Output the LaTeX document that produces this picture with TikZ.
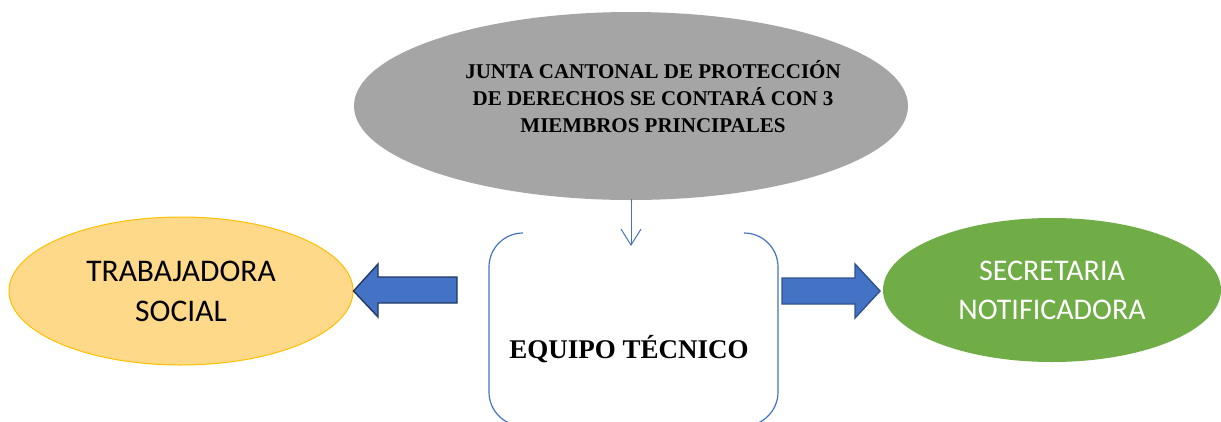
\documentclass[tikz,border=0pt]{standalone}
\usepackage{fontspec}
\setmainfont{Liberation Serif}
\newfontfamily\calibri{Carlito}
\usetikzlibrary{shapes.geometric,arrows.meta}
\definecolor{grayfill}{HTML}{A5A5A5}
\definecolor{goldfill}{HTML}{FFD98A}
\definecolor{goldline}{HTML}{FFC000}
\definecolor{greenfill}{HTML}{70AD47}
\definecolor{accblue}{HTML}{4472C4}
\definecolor{navyA}{HTML}{203864}
\definecolor{navyB}{HTML}{2F528F}
\tikzset{
  oval/.style={ellipse, inner sep=0pt},
  blockarrow/.style={fill=accblue, line width=1.4pt, line join=miter},
  thinarrow/.style={draw=accblue, line width=1pt, -{Straight Barb[length=16pt, width=20pt, line width=1pt]}},
  boldtxt/.style={font=\bfseries, align=center, inner sep=0pt},
}
\begin{document}
\begin{tikzpicture}[x=1pt, y=-1pt]
\useasboundingbox (0,0) rectangle (1221,421);
\fill[white] (0,0) rectangle (1221,421);

% top gray ellipse
\node[oval, fill=grayfill, minimum width=554pt, minimum height=188pt] (junta) at (631,106) {};
\node[boldtxt, font=\bfseries\fontsize{21}{27}\selectfont] (juntatxt) at (653,97)
  {JUNTA CANTONAL DE PROTECCIÓN\\DE DERECHOS SE CONTARÁ CON 3\\MIEMBROS PRINCIPALES};

% equipo tecnico (open-top rounded box)
\begin{scope}
\clip (0,0) rectangle (1221,421);
\draw[accblue, line width=1.2pt, rounded corners=34pt]
  (523,233) -- (489,233) -- (489,426) -- (778,426) -- (778,233) -- (745,233);
\end{scope}
\node[boldtxt, font=\bfseries\fontsize{27}{32}\selectfont] (equipo) at (629,349) {EQUIPO TÉCNICO};
\coordinate (eqtop) at (631,246);
\draw[thinarrow] (junta.south -| eqtop) ++(0,-1) -- (eqtop);

% left ellipse
\node[oval, fill=goldfill, draw=goldline, line width=1pt, minimum width=344pt, minimum height=148pt,
      align=center, font=\calibri\fontsize{31.5}{40}\selectfont] (trab) at (181,291)
  {TRABAJADORA\\SOCIAL};

% right ellipse
\node[oval, fill=greenfill, minimum width=338pt, minimum height=144pt,
      align=center, text=white, font=\calibri\fontsize{30}{39}\selectfont] (secr) at (1052,290)
  {SECRETARIA\\NOTIFICADORA};

% block arrows
\draw[blockarrow, draw=navyA]
  (457,277) -- (378,277) -- (378,264) -- (trab.east) -- (378,317) -- (378,303) -- (457,303) -- cycle;
\draw[blockarrow, draw=navyB]
  (782,278) -- (855,278) -- (855,264) -- (880,291) -- (855,318) -- (855,304) -- (782,304) -- cycle;
\end{tikzpicture}
\end{document}
